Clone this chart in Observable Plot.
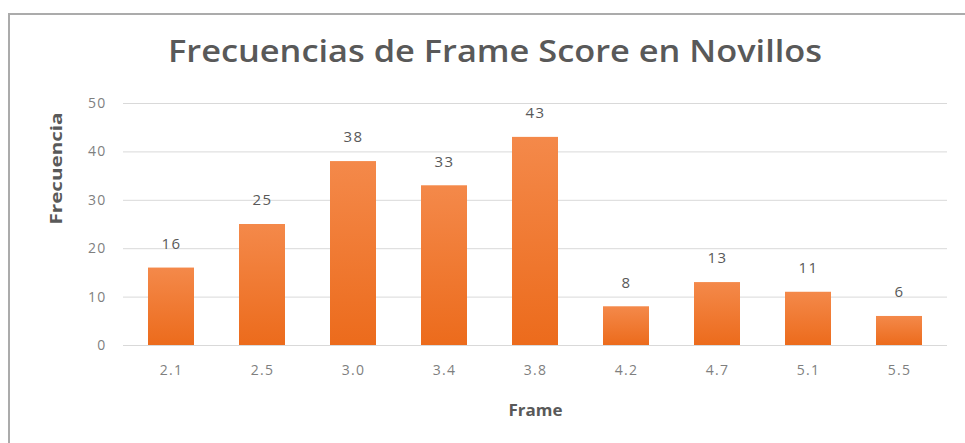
<!DOCTYPE html>
<html>
<head>
<meta charset="utf-8">
<script src="https://cdn.jsdelivr.net/npm/d3@7"></script>
<script src="https://cdn.jsdelivr.net/npm/@observablehq/plot@0.6"></script>
<style>
  html, body { margin: 0; padding: 0; background: #fff; }
  #wrap { position: relative; width: 965px; height: 443px; overflow: hidden; background: #fff; }
  #frame { position: absolute; left: 8px; top: 13px; right: -10px; bottom: -10px;
           border-top: 2px solid #ababab; border-left: 2px solid #ababab; }
  #title { position: absolute; left: 0; top: 28px; white-space: nowrap;
           font-family: "Open Sans", sans-serif; font-weight: 600; font-size: 31px;
           color: #595959; margin: 0; line-height: 44px; transform-origin: 0 50%; }
  #chart { position: absolute; left: 0; top: 80px; }
  #chart g[aria-label="y-axis tick label"] text,
  #chart g[aria-label="x-axis tick label"] text { letter-spacing: 1.2px; }
  #chart .vals text { letter-spacing: 1.5px; }
</style>
</head>
<body>
<div id="wrap">
  <div id="frame"></div>
  <div id="title">Frecuencias de Frame Score en Novillos</div>
  <div id="chart"></div>
</div>
<script>
const frames = ["2.1", "2.5", "3.0", "3.4", "3.8", "4.2", "4.7", "5.1", "5.5"];
const counts = [16, 25, 38, 33, 43, 8, 13, 11, 6];
const yTicks = [0, 10, 20, 30, 40, 50];

const data = frames.map((f, i) => ({frame: f, count: counts[i]}));

const plot = Plot.plot({
  width: 965,
  height: 363,
  marginLeft: 123,
  marginRight: 18,
  marginTop: 23,
  marginBottom: 98,
  style: {fontFamily: "'Open Sans', sans-serif", background: "transparent"},
  x: {domain: frames, paddingInner: 0.49, paddingOuter: 0.245, label: null},
  y: {domain: [0, 50], label: null},
  marks: [
    Plot.gridY(yTicks, {stroke: "#d9d9d9", strokeOpacity: 1, strokeWidth: 1}),
    Plot.axisY(yTicks, {tickSize: 0, tickPadding: 17, fontSize: 14, fill: "#7f7f7f", label: null}),
    Plot.axisX({tickSize: 0, tickPadding: 20, fontSize: 14, fill: "#7f7f7f", label: null}),
    Plot.barY(data, {x: "frame", y: "count", fill: "url(#barGrad)"}),
    Plot.text(data, {x: "frame", y: "count", text: d => String(d.count), dy: -24,
      lineAnchor: "middle", fontSize: 15, fill: "#595959", className: "vals"}),
    Plot.text(["Frame"], {frameAnchor: "bottom", dy: 65, lineAnchor: "middle",
      fontSize: 16, fontWeight: "bold", fill: "#595959", className: "xlab"}),
    Plot.text(["Frecuencia"], {frameAnchor: "left", dx: -67, rotate: -90, lineAnchor: "middle",
      fontSize: 16, fontWeight: "bold", fill: "#595959", className: "ylab"})
  ]
});

const defs = d3.select(plot).insert("defs", ":first-child");
const grad = defs.append("linearGradient").attr("id", "barGrad")
  .attr("x1", 0).attr("y1", 0).attr("x2", 0).attr("y2", 1);
grad.append("stop").attr("offset", "0%").attr("stop-color", "#f4894a");
grad.append("stop").attr("offset", "100%").attr("stop-color", "#ec6b1c");

d3.select(plot).selectAll(".ylab text").attr("textLength", 112).attr("lengthAdjust", "spacingAndGlyphs");
d3.select(plot).selectAll(".xlab text").attr("textLength", 54).attr("lengthAdjust", "spacingAndGlyphs");

document.getElementById("chart").appendChild(plot);

// fit title to the reference width, centred
const t = document.getElementById("title");
const w = t.getBoundingClientRect().width;
const target = 654;
const s = target / w;
t.style.left = (495 - target / 2) + "px";
t.style.transform = `scaleX(${s})`;
</script>
</body>
</html>
